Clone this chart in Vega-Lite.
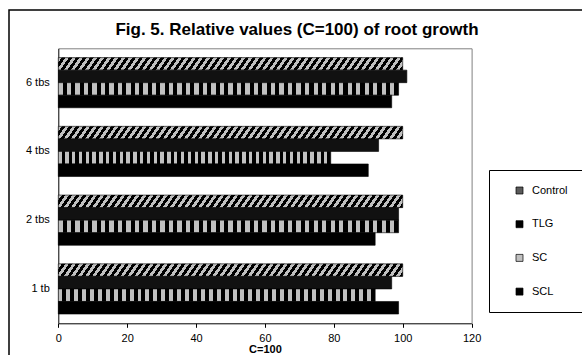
{
  "$schema": "https://vega.github.io/schema/vega-lite/v6.json",
  "width": 576,
  "height": 348,
  "autosize": {"type": "none"},
  "padding": {"left": 9, "top": 10, "right": -3, "bottom": -3},
  "background": "white",
  "config": {
    "font": "Liberation Sans",
    "view": {"stroke": "black", "strokeWidth": 1.5}
  },
  "title": {
    "text": "Fig. 5. Relative values (C=100) of root growth",
    "fontSize": 17,
    "fontWeight": "bold",
    "color": "black",
    "anchor": "middle",
    "frame": "group",
    "offset": -29
  },
  "data": {
    "values": [
      {"level": "6 tbs", "series": "Control", "value": 100},
      {"level": "6 tbs", "series": "TLG", "value": 101.2},
      {"level": "6 tbs", "series": "SC", "value": 98.8},
      {"level": "6 tbs", "series": "SCL", "value": 96.8},
      {"level": "4 tbs", "series": "Control", "value": 100},
      {"level": "4 tbs", "series": "TLG", "value": 93},
      {"level": "4 tbs", "series": "SC", "value": 79.1},
      {"level": "4 tbs", "series": "SCL", "value": 90},
      {"level": "2 tbs", "series": "Control", "value": 100},
      {"level": "2 tbs", "series": "TLG", "value": 98.8},
      {"level": "2 tbs", "series": "SC", "value": 98.8},
      {"level": "2 tbs", "series": "SCL", "value": 92},
      {"level": "1 tb", "series": "Control", "value": 100},
      {"level": "1 tb", "series": "TLG", "value": 96.8},
      {"level": "1 tb", "series": "SC", "value": 92},
      {"level": "1 tb", "series": "SCL", "value": 98.8}
    ]
  },
  "layer": [
    {
      "transform": [{"filter": "datum.series === 'Control'"}],
      "mark": {"type": "bar", "stroke": "black", "strokeWidth": 0.6,
        "fill": {"gradient": "linear", "x1": 0, "y1": 0, "x2": 1.025, "y2": 0.026, "stops": [
          {"offset":0,"color":"#c0c0c0"},{"offset":0.01,"color":"#c0c0c0"},{"offset":0.01,"color":"#000"},{"offset":0.02,"color":"#000"},{"offset":0.02,"color":"#c0c0c0"},{"offset":0.03,"color":"#c0c0c0"},{"offset":0.03,"color":"#000"},{"offset":0.04,"color":"#000"},{"offset":0.04,"color":"#c0c0c0"},{"offset":0.05,"color":"#c0c0c0"},{"offset":0.05,"color":"#000"},{"offset":0.06,"color":"#000"},{"offset":0.06,"color":"#c0c0c0"},{"offset":0.07,"color":"#c0c0c0"},{"offset":0.07,"color":"#000"},{"offset":0.08,"color":"#000"},{"offset":0.08,"color":"#c0c0c0"},{"offset":0.09,"color":"#c0c0c0"},{"offset":0.09,"color":"#000"},{"offset":0.1,"color":"#000"},
          {"offset":0.1,"color":"#c0c0c0"},{"offset":0.11,"color":"#c0c0c0"},{"offset":0.11,"color":"#000"},{"offset":0.12,"color":"#000"},{"offset":0.12,"color":"#c0c0c0"},{"offset":0.13,"color":"#c0c0c0"},{"offset":0.13,"color":"#000"},{"offset":0.14,"color":"#000"},{"offset":0.14,"color":"#c0c0c0"},{"offset":0.15,"color":"#c0c0c0"},{"offset":0.15,"color":"#000"},{"offset":0.16,"color":"#000"},{"offset":0.16,"color":"#c0c0c0"},{"offset":0.17,"color":"#c0c0c0"},{"offset":0.17,"color":"#000"},{"offset":0.18,"color":"#000"},{"offset":0.18,"color":"#c0c0c0"},{"offset":0.19,"color":"#c0c0c0"},{"offset":0.19,"color":"#000"},{"offset":0.2,"color":"#000"},
          {"offset":0.2,"color":"#c0c0c0"},{"offset":0.21,"color":"#c0c0c0"},{"offset":0.21,"color":"#000"},{"offset":0.22,"color":"#000"},{"offset":0.22,"color":"#c0c0c0"},{"offset":0.23,"color":"#c0c0c0"},{"offset":0.23,"color":"#000"},{"offset":0.24,"color":"#000"},{"offset":0.24,"color":"#c0c0c0"},{"offset":0.25,"color":"#c0c0c0"},{"offset":0.25,"color":"#000"},{"offset":0.26,"color":"#000"},{"offset":0.26,"color":"#c0c0c0"},{"offset":0.27,"color":"#c0c0c0"},{"offset":0.27,"color":"#000"},{"offset":0.28,"color":"#000"},{"offset":0.28,"color":"#c0c0c0"},{"offset":0.29,"color":"#c0c0c0"},{"offset":0.29,"color":"#000"},{"offset":0.3,"color":"#000"},
          {"offset":0.3,"color":"#c0c0c0"},{"offset":0.31,"color":"#c0c0c0"},{"offset":0.31,"color":"#000"},{"offset":0.32,"color":"#000"},{"offset":0.32,"color":"#c0c0c0"},{"offset":0.33,"color":"#c0c0c0"},{"offset":0.33,"color":"#000"},{"offset":0.34,"color":"#000"},{"offset":0.34,"color":"#c0c0c0"},{"offset":0.35,"color":"#c0c0c0"},{"offset":0.35,"color":"#000"},{"offset":0.36,"color":"#000"},{"offset":0.36,"color":"#c0c0c0"},{"offset":0.37,"color":"#c0c0c0"},{"offset":0.37,"color":"#000"},{"offset":0.38,"color":"#000"},{"offset":0.38,"color":"#c0c0c0"},{"offset":0.39,"color":"#c0c0c0"},{"offset":0.39,"color":"#000"},{"offset":0.4,"color":"#000"},
          {"offset":0.4,"color":"#c0c0c0"},{"offset":0.41,"color":"#c0c0c0"},{"offset":0.41,"color":"#000"},{"offset":0.42,"color":"#000"},{"offset":0.42,"color":"#c0c0c0"},{"offset":0.43,"color":"#c0c0c0"},{"offset":0.43,"color":"#000"},{"offset":0.44,"color":"#000"},{"offset":0.44,"color":"#c0c0c0"},{"offset":0.45,"color":"#c0c0c0"},{"offset":0.45,"color":"#000"},{"offset":0.46,"color":"#000"},{"offset":0.46,"color":"#c0c0c0"},{"offset":0.47,"color":"#c0c0c0"},{"offset":0.47,"color":"#000"},{"offset":0.48,"color":"#000"},{"offset":0.48,"color":"#c0c0c0"},{"offset":0.49,"color":"#c0c0c0"},{"offset":0.49,"color":"#000"},{"offset":0.5,"color":"#000"},
          {"offset":0.5,"color":"#c0c0c0"},{"offset":0.51,"color":"#c0c0c0"},{"offset":0.51,"color":"#000"},{"offset":0.52,"color":"#000"},{"offset":0.52,"color":"#c0c0c0"},{"offset":0.53,"color":"#c0c0c0"},{"offset":0.53,"color":"#000"},{"offset":0.54,"color":"#000"},{"offset":0.54,"color":"#c0c0c0"},{"offset":0.55,"color":"#c0c0c0"},{"offset":0.55,"color":"#000"},{"offset":0.56,"color":"#000"},{"offset":0.56,"color":"#c0c0c0"},{"offset":0.57,"color":"#c0c0c0"},{"offset":0.57,"color":"#000"},{"offset":0.58,"color":"#000"},{"offset":0.58,"color":"#c0c0c0"},{"offset":0.59,"color":"#c0c0c0"},{"offset":0.59,"color":"#000"},{"offset":0.6,"color":"#000"},
          {"offset":0.6,"color":"#c0c0c0"},{"offset":0.61,"color":"#c0c0c0"},{"offset":0.61,"color":"#000"},{"offset":0.62,"color":"#000"},{"offset":0.62,"color":"#c0c0c0"},{"offset":0.63,"color":"#c0c0c0"},{"offset":0.63,"color":"#000"},{"offset":0.64,"color":"#000"},{"offset":0.64,"color":"#c0c0c0"},{"offset":0.65,"color":"#c0c0c0"},{"offset":0.65,"color":"#000"},{"offset":0.66,"color":"#000"},{"offset":0.66,"color":"#c0c0c0"},{"offset":0.67,"color":"#c0c0c0"},{"offset":0.67,"color":"#000"},{"offset":0.68,"color":"#000"},{"offset":0.68,"color":"#c0c0c0"},{"offset":0.69,"color":"#c0c0c0"},{"offset":0.69,"color":"#000"},{"offset":0.7,"color":"#000"},
          {"offset":0.7,"color":"#c0c0c0"},{"offset":0.71,"color":"#c0c0c0"},{"offset":0.71,"color":"#000"},{"offset":0.72,"color":"#000"},{"offset":0.72,"color":"#c0c0c0"},{"offset":0.73,"color":"#c0c0c0"},{"offset":0.73,"color":"#000"},{"offset":0.74,"color":"#000"},{"offset":0.74,"color":"#c0c0c0"},{"offset":0.75,"color":"#c0c0c0"},{"offset":0.75,"color":"#000"},{"offset":0.76,"color":"#000"},{"offset":0.76,"color":"#c0c0c0"},{"offset":0.77,"color":"#c0c0c0"},{"offset":0.77,"color":"#000"},{"offset":0.78,"color":"#000"},{"offset":0.78,"color":"#c0c0c0"},{"offset":0.79,"color":"#c0c0c0"},{"offset":0.79,"color":"#000"},{"offset":0.8,"color":"#000"},
          {"offset":0.8,"color":"#c0c0c0"},{"offset":0.81,"color":"#c0c0c0"},{"offset":0.81,"color":"#000"},{"offset":0.82,"color":"#000"},{"offset":0.82,"color":"#c0c0c0"},{"offset":0.83,"color":"#c0c0c0"},{"offset":0.83,"color":"#000"},{"offset":0.84,"color":"#000"},{"offset":0.84,"color":"#c0c0c0"},{"offset":0.85,"color":"#c0c0c0"},{"offset":0.85,"color":"#000"},{"offset":0.86,"color":"#000"},{"offset":0.86,"color":"#c0c0c0"},{"offset":0.87,"color":"#c0c0c0"},{"offset":0.87,"color":"#000"},{"offset":0.88,"color":"#000"},{"offset":0.88,"color":"#c0c0c0"},{"offset":0.89,"color":"#c0c0c0"},{"offset":0.89,"color":"#000"},{"offset":0.9,"color":"#000"},
          {"offset":0.9,"color":"#c0c0c0"},{"offset":0.91,"color":"#c0c0c0"},{"offset":0.91,"color":"#000"},{"offset":0.92,"color":"#000"},{"offset":0.92,"color":"#c0c0c0"},{"offset":0.93,"color":"#c0c0c0"},{"offset":0.93,"color":"#000"},{"offset":0.94,"color":"#000"},{"offset":0.94,"color":"#c0c0c0"},{"offset":0.95,"color":"#c0c0c0"},{"offset":0.95,"color":"#000"},{"offset":0.96,"color":"#000"},{"offset":0.96,"color":"#c0c0c0"},{"offset":0.97,"color":"#c0c0c0"},{"offset":0.97,"color":"#000"},{"offset":0.98,"color":"#000"},{"offset":0.98,"color":"#c0c0c0"},{"offset":0.99,"color":"#c0c0c0"},{"offset":0.99,"color":"#000"},{"offset":1,"color":"#000"}
        ]}
      },
      "encoding": {
        "x": {
          "field": "value",
          "type": "quantitative",
          "stack": null,
          "scale": {"domain": [0, 120], "range": [49.3, 462.6], "nice": false},
          "axis": {
            "orient": "bottom",
            "offset": -34.7,
            "values": [0, 20, 40, 60, 80, 100, 120],
            "domainColor": "black",
            "tickColor": "black",
            "tickSize": 4,
            "labelFontSize": 11,
            "labelColor": "black",
            "labelPadding": 5,
            "labelFlush": false,
            "labelOverlap": false,
            "grid": false,
            "title": "C=100",
            "titleFontSize": 11,
            "titleFontWeight": "bold",
            "titleColor": "black",
            "titlePadding": 0
          }
        },
        "y": {
          "field": "level",
          "type": "nominal",
          "sort": ["6 tbs", "4 tbs", "2 tbs", "1 tb"],
          "scale": {"domain": ["6 tbs", "4 tbs", "2 tbs", "1 tb"], "range": [38.3, 313.3], "paddingInner": 0.27, "paddingOuter": 0.135},
          "axis": {
            "orient": "left",
            "offset": -49.3,
            "ticks": false,
            "labelPadding": 9,
            "labelFontSize": 11,
            "labelColor": "black",
            "domainColor": "black",
            "title": null
          }
        },
        "yOffset": {
          "field": "series",
          "type": "nominal",
          "scale": {"domain": ["Control", "TLG", "SC", "SCL"], "paddingInner": 0, "paddingOuter": 0}
        }
      }
    },
    {
      "transform": [{"filter": "datum.series === 'TLG'"}],
      "mark": {"type": "bar", "stroke": "black", "strokeWidth": 0.6, "fill": "#111111"},
      "encoding": {
        "x": {"field": "value", "type": "quantitative", "stack": null, "scale": {"domain": [0, 120]}, "axis": null},
        "y": {"field": "level", "type": "nominal", "scale": {"domain": ["6 tbs", "4 tbs", "2 tbs", "1 tb"]}, "axis": null},
        "yOffset": {"field": "series", "type": "nominal", "scale": {"domain": ["Control", "TLG", "SC", "SCL"]}}
      }
    },
    {
      "transform": [{"filter": "datum.series === 'SC'"}],
      "mark": {"type": "bar", "stroke": "black", "strokeWidth": 0.6,
        "fill": {"gradient": "linear", "x1": 0, "y1": 0, "x2": 1, "y2": 0, "stops": [
          {"offset":0,"color":"#c0c0c0"},{"offset":0.0125,"color":"#c0c0c0"},{"offset":0.0125,"color":"#000"},{"offset":0.025,"color":"#000"},{"offset":0.025,"color":"#c0c0c0"},{"offset":0.0375,"color":"#c0c0c0"},{"offset":0.0375,"color":"#000"},{"offset":0.05,"color":"#000"},{"offset":0.05,"color":"#c0c0c0"},{"offset":0.0625,"color":"#c0c0c0"},{"offset":0.0625,"color":"#000"},{"offset":0.075,"color":"#000"},{"offset":0.075,"color":"#c0c0c0"},{"offset":0.0875,"color":"#c0c0c0"},{"offset":0.0875,"color":"#000"},{"offset":0.1,"color":"#000"},
          {"offset":0.1,"color":"#c0c0c0"},{"offset":0.1125,"color":"#c0c0c0"},{"offset":0.1125,"color":"#000"},{"offset":0.125,"color":"#000"},{"offset":0.125,"color":"#c0c0c0"},{"offset":0.1375,"color":"#c0c0c0"},{"offset":0.1375,"color":"#000"},{"offset":0.15,"color":"#000"},{"offset":0.15,"color":"#c0c0c0"},{"offset":0.1625,"color":"#c0c0c0"},{"offset":0.1625,"color":"#000"},{"offset":0.175,"color":"#000"},{"offset":0.175,"color":"#c0c0c0"},{"offset":0.1875,"color":"#c0c0c0"},{"offset":0.1875,"color":"#000"},{"offset":0.2,"color":"#000"},
          {"offset":0.2,"color":"#c0c0c0"},{"offset":0.2125,"color":"#c0c0c0"},{"offset":0.2125,"color":"#000"},{"offset":0.225,"color":"#000"},{"offset":0.225,"color":"#c0c0c0"},{"offset":0.2375,"color":"#c0c0c0"},{"offset":0.2375,"color":"#000"},{"offset":0.25,"color":"#000"},{"offset":0.25,"color":"#c0c0c0"},{"offset":0.2625,"color":"#c0c0c0"},{"offset":0.2625,"color":"#000"},{"offset":0.275,"color":"#000"},{"offset":0.275,"color":"#c0c0c0"},{"offset":0.2875,"color":"#c0c0c0"},{"offset":0.2875,"color":"#000"},{"offset":0.3,"color":"#000"},
          {"offset":0.3,"color":"#c0c0c0"},{"offset":0.3125,"color":"#c0c0c0"},{"offset":0.3125,"color":"#000"},{"offset":0.325,"color":"#000"},{"offset":0.325,"color":"#c0c0c0"},{"offset":0.3375,"color":"#c0c0c0"},{"offset":0.3375,"color":"#000"},{"offset":0.35,"color":"#000"},{"offset":0.35,"color":"#c0c0c0"},{"offset":0.3625,"color":"#c0c0c0"},{"offset":0.3625,"color":"#000"},{"offset":0.375,"color":"#000"},{"offset":0.375,"color":"#c0c0c0"},{"offset":0.3875,"color":"#c0c0c0"},{"offset":0.3875,"color":"#000"},{"offset":0.4,"color":"#000"},
          {"offset":0.4,"color":"#c0c0c0"},{"offset":0.4125,"color":"#c0c0c0"},{"offset":0.4125,"color":"#000"},{"offset":0.425,"color":"#000"},{"offset":0.425,"color":"#c0c0c0"},{"offset":0.4375,"color":"#c0c0c0"},{"offset":0.4375,"color":"#000"},{"offset":0.45,"color":"#000"},{"offset":0.45,"color":"#c0c0c0"},{"offset":0.4625,"color":"#c0c0c0"},{"offset":0.4625,"color":"#000"},{"offset":0.475,"color":"#000"},{"offset":0.475,"color":"#c0c0c0"},{"offset":0.4875,"color":"#c0c0c0"},{"offset":0.4875,"color":"#000"},{"offset":0.5,"color":"#000"},
          {"offset":0.5,"color":"#c0c0c0"},{"offset":0.5125,"color":"#c0c0c0"},{"offset":0.5125,"color":"#000"},{"offset":0.525,"color":"#000"},{"offset":0.525,"color":"#c0c0c0"},{"offset":0.5375,"color":"#c0c0c0"},{"offset":0.5375,"color":"#000"},{"offset":0.55,"color":"#000"},{"offset":0.55,"color":"#c0c0c0"},{"offset":0.5625,"color":"#c0c0c0"},{"offset":0.5625,"color":"#000"},{"offset":0.575,"color":"#000"},{"offset":0.575,"color":"#c0c0c0"},{"offset":0.5875,"color":"#c0c0c0"},{"offset":0.5875,"color":"#000"},{"offset":0.6,"color":"#000"},
          {"offset":0.6,"color":"#c0c0c0"},{"offset":0.6125,"color":"#c0c0c0"},{"offset":0.6125,"color":"#000"},{"offset":0.625,"color":"#000"},{"offset":0.625,"color":"#c0c0c0"},{"offset":0.6375,"color":"#c0c0c0"},{"offset":0.6375,"color":"#000"},{"offset":0.65,"color":"#000"},{"offset":0.65,"color":"#c0c0c0"},{"offset":0.6625,"color":"#c0c0c0"},{"offset":0.6625,"color":"#000"},{"offset":0.675,"color":"#000"},{"offset":0.675,"color":"#c0c0c0"},{"offset":0.6875,"color":"#c0c0c0"},{"offset":0.6875,"color":"#000"},{"offset":0.7,"color":"#000"},
          {"offset":0.7,"color":"#c0c0c0"},{"offset":0.7125,"color":"#c0c0c0"},{"offset":0.7125,"color":"#000"},{"offset":0.725,"color":"#000"},{"offset":0.725,"color":"#c0c0c0"},{"offset":0.7375,"color":"#c0c0c0"},{"offset":0.7375,"color":"#000"},{"offset":0.75,"color":"#000"},{"offset":0.75,"color":"#c0c0c0"},{"offset":0.7625,"color":"#c0c0c0"},{"offset":0.7625,"color":"#000"},{"offset":0.775,"color":"#000"},{"offset":0.775,"color":"#c0c0c0"},{"offset":0.7875,"color":"#c0c0c0"},{"offset":0.7875,"color":"#000"},{"offset":0.8,"color":"#000"},
          {"offset":0.8,"color":"#c0c0c0"},{"offset":0.8125,"color":"#c0c0c0"},{"offset":0.8125,"color":"#000"},{"offset":0.825,"color":"#000"},{"offset":0.825,"color":"#c0c0c0"},{"offset":0.8375,"color":"#c0c0c0"},{"offset":0.8375,"color":"#000"},{"offset":0.85,"color":"#000"},{"offset":0.85,"color":"#c0c0c0"},{"offset":0.8625,"color":"#c0c0c0"},{"offset":0.8625,"color":"#000"},{"offset":0.875,"color":"#000"},{"offset":0.875,"color":"#c0c0c0"},{"offset":0.8875,"color":"#c0c0c0"},{"offset":0.8875,"color":"#000"},{"offset":0.9,"color":"#000"},
          {"offset":0.9,"color":"#c0c0c0"},{"offset":0.9125,"color":"#c0c0c0"},{"offset":0.9125,"color":"#000"},{"offset":0.925,"color":"#000"},{"offset":0.925,"color":"#c0c0c0"},{"offset":0.9375,"color":"#c0c0c0"},{"offset":0.9375,"color":"#000"},{"offset":0.95,"color":"#000"},{"offset":0.95,"color":"#c0c0c0"},{"offset":0.9625,"color":"#c0c0c0"},{"offset":0.9625,"color":"#000"},{"offset":0.975,"color":"#000"},{"offset":0.975,"color":"#c0c0c0"},{"offset":0.9875,"color":"#c0c0c0"},{"offset":0.9875,"color":"#000"},{"offset":1,"color":"#000"}
        ]}
      },
      "encoding": {
        "x": {"field": "value", "type": "quantitative", "stack": null, "scale": {"domain": [0, 120]}, "axis": null},
        "y": {"field": "level", "type": "nominal", "scale": {"domain": ["6 tbs", "4 tbs", "2 tbs", "1 tb"]}, "axis": null},
        "yOffset": {"field": "series", "type": "nominal", "scale": {"domain": ["Control", "TLG", "SC", "SCL"]}}
      }
    },
    {
      "transform": [{"filter": "datum.series === 'SCL'"}],
      "mark": {"type": "bar", "stroke": "black", "strokeWidth": 0.6, "fill": "#000000"},
      "encoding": {
        "x": {"field": "value", "type": "quantitative", "stack": null, "scale": {"domain": [0, 120]}, "axis": null},
        "y": {"field": "level", "type": "nominal", "scale": {"domain": ["6 tbs", "4 tbs", "2 tbs", "1 tb"]}, "axis": null},
        "yOffset": {"field": "series", "type": "nominal", "scale": {"domain": ["Control", "TLG", "SC", "SCL"]}}
      }
    },
    {
      "mark": {"type": "bar", "opacity": 0},
      "encoding": {
        "x": {
          "field": "value",
          "type": "quantitative",
          "stack": null,
          "scale": {"domain": [0, 120]},
          "axis": {"orient": "top", "offset": -38.3, "domainColor": "#808080", "ticks": false, "labels": false, "grid": false, "title": null}
        },
        "y": {
          "field": "level",
          "type": "nominal",
          "scale": {"domain": ["6 tbs", "4 tbs", "2 tbs", "1 tb"]},
          "axis": {"orient": "right", "offset": -113.4, "domainColor": "#808080", "ticks": false, "labels": false, "title": null}
        },
        "fill": {
          "field": "series",
          "type": "nominal",
          "scale": {"domain": ["Control", "TLG", "SC", "SCL"], "range": ["#5a5a5a", "#000000", "#c0c0c0", "#000000"]},
          "legend": {
            "orient": "none",
            "legendX": 480,
            "legendY": 160,
            "title": null,
            "symbolType": "square",
            "symbolSize": 49,
            "symbolOpacity": 1,
            "symbolStrokeColor": "black",
            "symbolStrokeWidth": 0.7,
            "symbolOffset": 10,
            "labelOffset": 7,
            "labelFontSize": 11,
            "labelColor": "black",
            "padding": 15,
            "rowPadding": 21.7,
            "strokeColor": "black",
            "fillColor": "white"
          }
        }
      }
    }
  ],
  "resolve": {"axis": {"x": "independent", "y": "independent"}}
}
